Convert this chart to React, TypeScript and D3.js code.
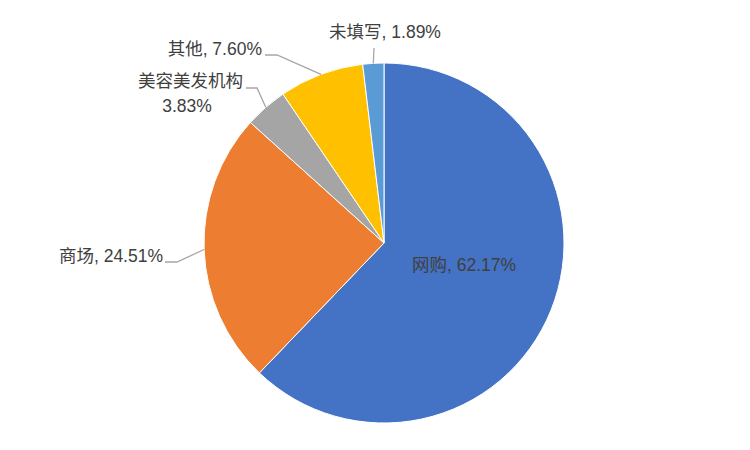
import { useEffect, useRef } from 'react'
import * as d3 from 'd3'

const categories = ['网购', '商场', '美容美发机构', '其他', '未填写']
const shares = [62.17, 24.51, 3.83, 7.6, 1.89]
const colors = ['#4472C4', '#ED7D31', '#A5A5A5', '#FFC000', '#5B9BD5']

// label layout: elbow point, line end, text anchor (relative to pie center)
const labelLayout = [
  { inside: true, tx: 80, ty: 23 },
  { elbow: [-207, 19], end: [-219, 19], tx: -221, ty: 14, anchor: 'end' },
  { elbow: [-127, -155], end: [-138, -155], tx: -141, ty: -161, anchor: 'end', twoLine: true },
  { elbow: [-107, -188], end: [-119, -188], tx: -122, ty: -193, anchor: 'end' },
  { elbow: [-10, -195], end: [-10, -195], tx: 1, ty: -210, anchor: 'middle' }
]

export default function App() {
  const svgRef = useRef<SVGSVGElement>(null)
  const width = 750
  const height = 450

  useEffect(() => {
    if (!svgRef.current) return
    const svg = d3.select(svgRef.current)
    svg.selectAll('*').remove()

    const cx = 384
    const cy = 243
    const radius = 180

    const data = categories.map((c, i) => ({ name: c, value: shares[i], color: colors[i], i }))
    const pie = d3.pie<typeof data[0]>().sort(null).value(d => d.value).startAngle(0)
    const arcs = pie(data)
    const arc = d3.arc<d3.PieArcDatum<typeof data[0]>>().innerRadius(0).outerRadius(radius)

    const g = svg.append('g').attr('transform', `translate(${cx},${cy})`)

    g.selectAll('path.slice')
      .data(arcs)
      .enter()
      .append('path')
      .attr('class', 'slice')
      .attr('d', arc)
      .attr('fill', d => d.data.color)
      .attr('stroke', '#fff')
      .attr('stroke-width', 1)

    const fmt = (v: number) => v.toFixed(2) + '%'
    const font = '"Liberation Sans", Arial, "Noto Sans CJK SC", sans-serif'
    const fontSize = 17.5

    arcs.forEach((a, i) => {
      const lay: any = labelLayout[i]
      const mid = (a.startAngle + a.endAngle) / 2
      const sx = radius * Math.sin(mid)
      const sy = -radius * Math.cos(mid)

      if (!lay.inside) {
        const line = d3.line()
        g.append('path')
          .attr('d', line([[sx, sy], lay.elbow, lay.end]))
          .attr('fill', 'none')
          .attr('stroke', '#A6A6A6')
          .attr('stroke-width', 1.3)
      }

      const t = g.append('text')
        .attr('x', lay.tx)
        .attr('y', lay.ty)
        .attr('text-anchor', lay.anchor || 'middle')
        .attr('dominant-baseline', 'middle')
        .attr('font-family', font)
        .attr('font-size', fontSize)
        .attr('fill', '#404040')

      if (lay.twoLine) {
        t.text(a.data.name)
        g.append('text')
          .attr('x', lay.tx - 56)
          .attr('y', lay.ty + 25)
          .attr('text-anchor', 'middle')
          .attr('dominant-baseline', 'middle')
          .attr('font-family', font)
          .attr('font-size', fontSize)
          .attr('fill', '#404040')
          .text(fmt(a.data.value))
      } else {
        t.text(`${a.data.name}, ${fmt(a.data.value)}`)
      }
    })
  }, [])

  return (
    <svg
      ref={svgRef}
      width={width}
      height={height}
      style={{ position: 'absolute', left: 0, top: 0, background: '#fff' }}
    />
  )
}
